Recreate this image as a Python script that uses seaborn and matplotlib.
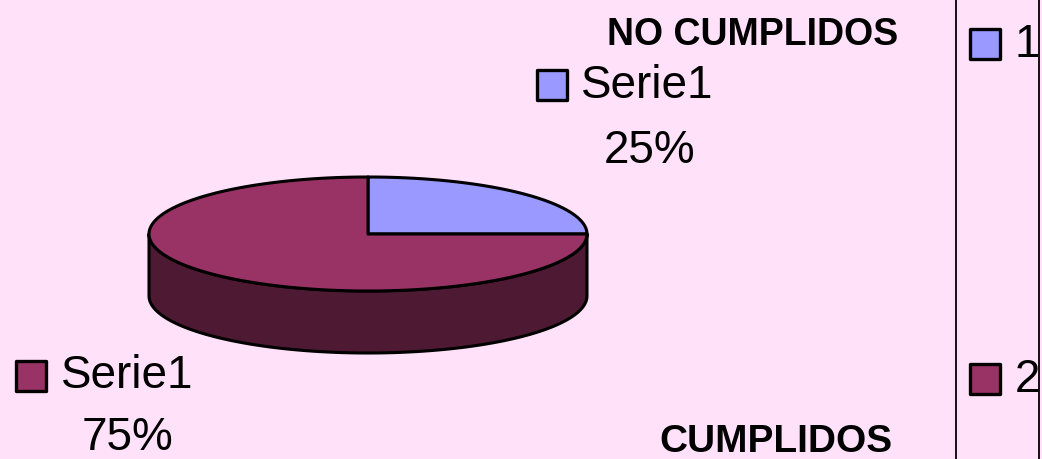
import numpy as np
import matplotlib
matplotlib.use("Agg")
import matplotlib.pyplot as plt
import seaborn as sns
from matplotlib.patches import Polygon

# ---- data ----
categories = ["1", "2"]
series_name = "Serie1"
values = [25, 75]
group_titles = ["NO CUMPLIDOS", "CUMPLIDOS"]
top_colors = ["#9999FF", "#993366"]
side_colors = ["#4D4D80", "#4D1933"]
bg = "#FFE1FA"

sns.set_theme(style="white", rc={"axes.facecolor": bg, "figure.facecolor": bg,
                                 "text.color": "black"})
plt.rcParams['font.family'] = ['Liberation Sans', 'DejaVu Sans']

W, H = 1042, 459
fig = plt.figure(figsize=(W / 100, H / 100), dpi=100)
ax = fig.add_axes([0, 0, 1, 1])
ax.set_xlim(0, W)
ax.set_ylim(H, 0)
ax.axis("off")
fig.patch.set_facecolor(bg)

# ---- 3D pie geometry ----
cx, cy, rx, ry, depth = 368, 234, 219, 57, 62
lw = 2.2


def pt(theta_deg, dy=0.0):
    t = np.radians(theta_deg)
    return cx + rx * np.cos(t), cy - ry * np.sin(t) + dy


total = float(sum(values))
fracs = [v / total for v in values]
starts = []
ends = []
a = 90.0
for f in fracs:
    starts.append(a)
    ends.append(a - 360.0 * f)
    a = a - 360.0 * f

# side walls (front half: angles between -180 and 0)
for i in range(len(values)):
    lo, hi = ends[i], starts[i]
    segs = []
    for shift in (-360, 0, 360):
        l2, h2 = lo + shift, hi + shift
        a0, a1 = max(l2, -180), min(h2, 0)
        if a1 > a0:
            segs.append((a0, a1))
    for a0, a1 in segs:
        th = np.linspace(a0, a1, 120)
        top = [pt(t) for t in th]
        bot = [pt(t, depth) for t in th[::-1]]
        ax.add_patch(Polygon(top + bot, closed=True, facecolor=side_colors[i],
                             edgecolor="black", linewidth=lw, joinstyle="round",
                             zorder=2))

# top faces
for i in range(len(values)):
    th = np.linspace(starts[i], ends[i], 240)
    verts = [(cx, cy)] + [pt(t) for t in th]
    ax.add_patch(Polygon(verts, closed=True, facecolor=top_colors[i],
                         edgecolor="black", linewidth=lw, joinstyle="round",
                         zorder=3))

# ---- labels ----
pct = [f"{v / total * 100:.0f}%" for v in values]
msize = 470
tc = "black"
ax.text(753, 45, group_titles[0], fontsize=27, fontweight="bold", ha="center",
        va="baseline", color=tc, zorder=5)
ax.scatter([552], [85], marker="s", s=msize, c=top_colors[0], edgecolors="black",
           linewidths=2.4, zorder=5)
ax.text(581, 98, series_name, fontsize=33, ha="left", va="baseline", color=tc,
        zorder=5)
ax.text(650, 163, pct[0], fontsize=33, ha="center", va="baseline", color=tc,
        zorder=5)

ax.scatter([31], [376], marker="s", s=msize, c=top_colors[1], edgecolors="black",
           linewidths=2.4, zorder=5)
ax.text(61, 388, series_name, fontsize=33, ha="left", va="baseline", color=tc,
        zorder=5)
ax.text(128, 450, pct[1], fontsize=33, ha="center", va="baseline", color=tc,
        zorder=5)
ax.text(776, 452, group_titles[1], fontsize=28, fontweight="bold", ha="center",
        va="baseline", color=tc, zorder=5)

# ---- legend area ----
ax.plot([956, 956], [0, H], color="black", linewidth=1.3, zorder=4)
ax.plot([1039, 1039], [0, H], color="black", linewidth=1.3, zorder=4)
leg_y = [44, 379]
for i, cat in enumerate(categories):
    ax.scatter([985], [leg_y[i]], marker="s", s=msize, c=top_colors[i],
               edgecolors="black", linewidths=2.4, zorder=5)
    ax.text(1015, leg_y[i] + 13, cat, fontsize=33, ha="left", va="baseline",
            color=tc, zorder=5)

fig.savefig("out.png", dpi=100, facecolor=bg)
